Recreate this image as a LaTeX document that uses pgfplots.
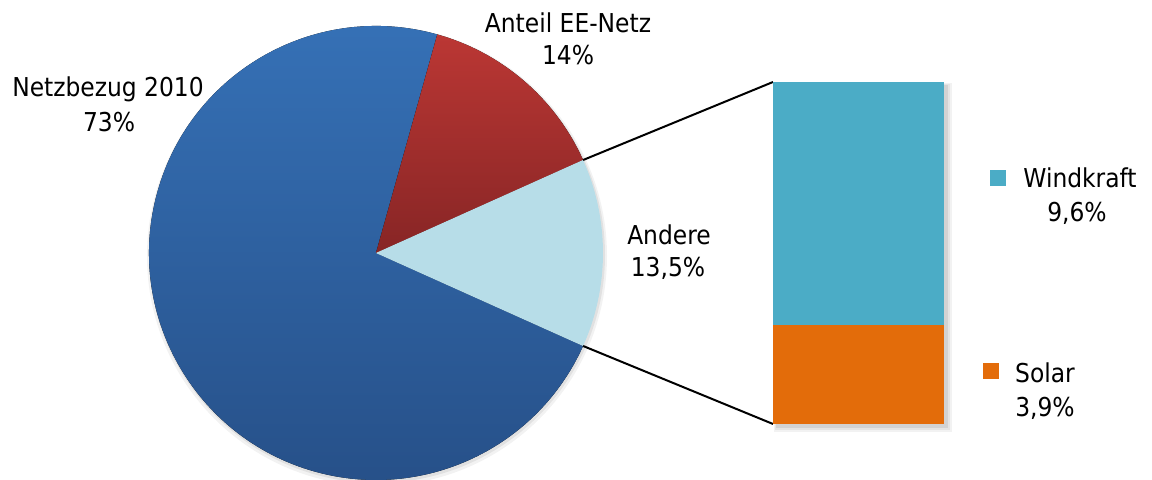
\documentclass[border=0pt]{standalone}
\usepackage{pgfplots}
\pgfplotsset{compat=1.18}
\usepackage{fontspec}
\setmainfont{DejaVu Sans Condensed}
\definecolor{netzT}{HTML}{3672B8}
\definecolor{netzB}{HTML}{264F87}
\definecolor{eeT}{HTML}{BB3734}
\definecolor{eeB}{HTML}{872525}
\definecolor{andere}{HTML}{B7DDE8}
\definecolor{wind}{HTML}{4BACC6}
\definecolor{solar}{HTML}{E36C0A}
% data (percent)
\def\vNetz{73}\def\vEE{14}\def\vAndere{13.5}
\def\vSolar{3.9}\def\vWind{9.6}
\pgfmathsetmacro\tot{\vNetz+\vEE+\vAndere}
\pgfmathsetmacro\aA{-180*\vAndere/\tot}
\pgfmathsetmacro\aB{180*\vAndere/\tot}
\pgfmathsetmacro\aC{\aB+360*\vEE/\tot}
\pgfmathsetmacro\aD{\aA+360}
\begin{document}
\begin{tikzpicture}[font=\fontsize{13}{16}\selectfont]
\begin{axis}[x=0.5pt,y=0.5pt,xmin=0,xmax=1152,ymin=0,ymax=480,hide axis,clip=false]
\coordinate (bl) at (rel axis cs:0,0);
\coordinate (tr) at (rel axis cs:1,1);
\coordinate (barbl) at (axis cs:773,56);
% faint shadows
\fill[black,opacity=0.05] (axis cs:377,224) circle[radius=115pt];
\fill[black,opacity=0.07] (axis cs:377,225) circle[radius=114pt];
% bar shadow
\fill[black,opacity=0.05] (axis cs:774,48) rectangle (axis cs:952,397);
\fill[black,opacity=0.06] (axis cs:775,50) rectangle (axis cs:950,396);
\fill[black,opacity=0.08] (axis cs:776,52) rectangle (axis cs:948,395);
% pie slices
\fill[top color=netzT,bottom color=netzB] (axis cs:376,227) -- ++(\aC:113.5pt) arc[start angle=\aC,end angle=\aD,radius=113.5pt] -- cycle;
\fill[top color=eeT,bottom color=eeB] (axis cs:376,227) -- ++(\aB:113.5pt) arc[start angle=\aB,end angle=\aC,radius=113.5pt] -- cycle;
\fill[andere] (axis cs:376,227) -- ++(\aA:113.5pt) arc[start angle=\aA,end angle=\aB,radius=113.5pt] -- cycle;
% connector lines
\draw[black,line width=1pt] (axis cs:{376+227*cos(\aB)},{227+227*sin(\aB)}) -- (axis cs:773,398);
\draw[black,line width=1pt] (axis cs:{376+227*cos(\aA)},{227+227*sin(\aA)}) -- (axis cs:773,56);
% labels
\node[anchor=base] at (axis cs:108,383) {Netzbezug 2010};
\node[anchor=base] at (axis cs:109,348) {73\%};
\node[anchor=base] at (axis cs:568,447) {Anteil EE-Netz};
\node[anchor=base] at (axis cs:568,415) {14\%};
\node[anchor=base] at (axis cs:669,235) {Andere};
\node[anchor=base] at (axis cs:668,203) {13,5\%};
% legend
\fill[wind] (axis cs:990,294) rectangle (axis cs:1006,310);
\node[anchor=base] at (axis cs:1080,292) {Windkraft};
\node[anchor=base] at (axis cs:1077,258) {9,6\%};
\fill[solar] (axis cs:983,101) rectangle (axis cs:999,117);
\node[anchor=base] at (axis cs:1045,97) {Solar};
\node[anchor=base] at (axis cs:1045,63) {3,9\%};
\end{axis}
\begin{axis}[at={(barbl)},anchor=south west,scale only axis,width=85.5pt,height=171pt,
  xmin=0,xmax=1,ymin=0,ymax=13.5,hide axis,ybar stacked,bar width=85.5pt,clip=false]
\addplot[fill=solar,draw=none] coordinates {(0.5,\vSolar)};
\addplot[fill=wind,draw=none] coordinates {(0.5,\vWind)};
\end{axis}
\pgfresetboundingbox
\path (bl) rectangle (tr);
\end{tikzpicture}
\end{document}
